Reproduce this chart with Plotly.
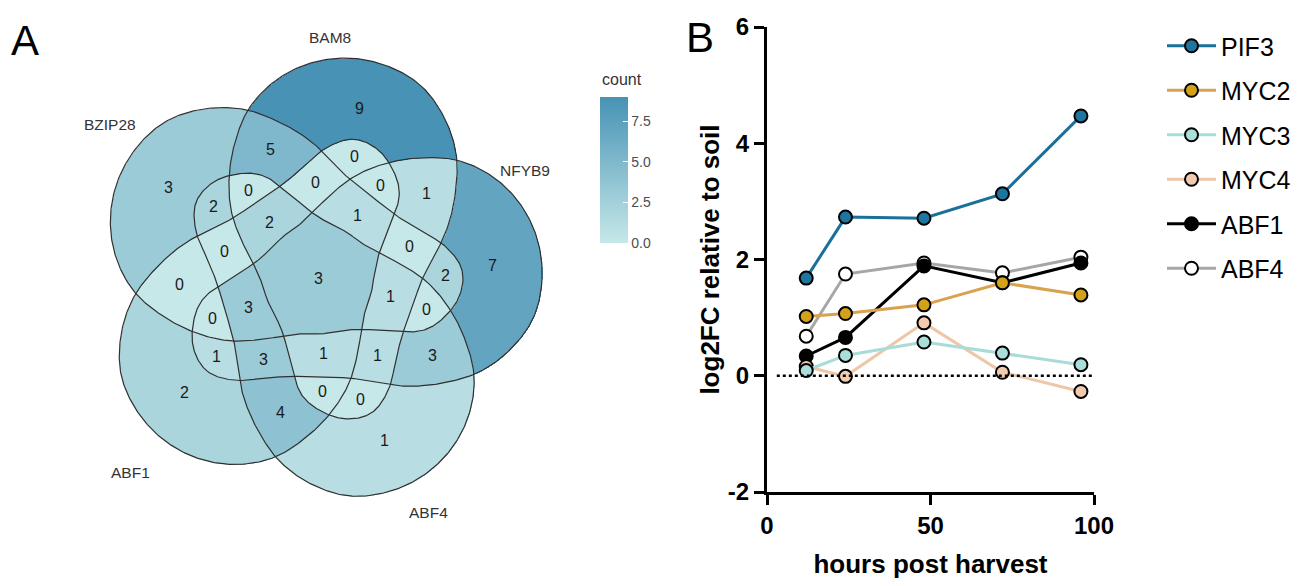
import numpy as np
import plotly.graph_objects as go

# ---------------- Panel B data ----------------
hours = [12, 24, 48, 72, 96]
series_names = ["PIF3", "MYC2", "MYC3", "MYC4", "ABF1", "ABF4"]
pif3 = [1.68, 2.73, 2.71, 3.13, 4.47]
myc2 = [1.02, 1.07, 1.22, 1.60, 1.39]
myc3 = [0.09, 0.35, 0.58, 0.39, 0.19]
myc4 = [0.16, -0.01, 0.91, 0.06, -0.27]
abf1 = [0.34, 0.66, 1.89, 1.60, 1.94]
abf4 = [0.68, 1.75, 1.94, 1.77, 2.04]
y_ticks = [-2, 0, 2, 4, 6]
y_tick_text = ["-2", "0", "2", "4", "6"]
x_ticks = [0, 50, 100]

# ---------------- Panel A data ----------------
set_names = ["BAM8", "NFYB9", "ABF4", "ABF1", "BZIP28"]
region_sets = [
    "BAM8", "NFYB9", "ABF4", "ABF1", "BZIP28",
    "BAM8&NFYB9", "BAM8&ABF4", "BAM8&ABF1", "BAM8&BZIP28", "NFYB9&ABF4",
    "NFYB9&ABF1", "NFYB9&BZIP28", "ABF4&ABF1", "ABF4&BZIP28", "ABF1&BZIP28",
    "BAM8&NFYB9&ABF4", "BAM8&NFYB9&ABF1", "BAM8&NFYB9&BZIP28", "BAM8&ABF4&ABF1",
    "BAM8&ABF4&BZIP28", "BAM8&ABF1&BZIP28", "NFYB9&ABF4&ABF1", "NFYB9&ABF4&BZIP28",
    "NFYB9&ABF1&BZIP28", "ABF4&ABF1&BZIP28",
    "BAM8&NFYB9&ABF4&ABF1", "BAM8&NFYB9&ABF4&BZIP28", "BAM8&NFYB9&ABF1&BZIP28",
    "BAM8&ABF4&ABF1&BZIP28", "NFYB9&ABF4&ABF1&BZIP28",
    "BAM8&NFYB9&ABF4&ABF1&BZIP28",
]
region_counts = [
    9, 7, 1, 2, 3,
    1, 0, 0, 5, 3,
    1, 2, 4, 2, 0,
    1, 0, 0, 0,
    0, 0, 3, 0,
    0, 0,
    1, 1, 1,
    2, 3,
    3,
]

# ---------------- page geometry helpers (page body has an 8 px offset) ----------------
W, H, OFF = 1303, 586, 8


def fx(sx):
    return (sx - OFF) / W


def fy(sy):
    return 1 - (sy - OFF) / H


# ---------------- Venn geometry (radius of one set's outline vs angle, rotated 5x) ----------------
ctrl_r = np.array([117, 133, 143, 144, 132, 115, 104, 99, 98, 100, 106, 120,
                   140, 162, 186, 205, 219, 224, 223, 216, 203, 184, 158, 133,
                   110, 88, 72, 62, 57, 55, 55, 55, 57, 61, 70, 88], dtype=float)
set_angle = [82, 10, -62, -134, 154]
center_screen = (318, 279)
venn_right = 588


def shape_r(psi):
    t = ((np.asarray(psi) + 180.0) % 360.0) / 10.0
    i = np.floor(t).astype(int)
    u = t - i
    n = len(ctrl_r)
    p0 = ctrl_r[(i - 1) % n]; p1 = ctrl_r[i % n]; p2 = ctrl_r[(i + 1) % n]; p3 = ctrl_r[(i + 2) % n]
    return 0.5 * (2 * p1 + (-p0 + p2) * u + (2 * p0 - 5 * p1 + 4 * p2 - p3) * u ** 2
                  + (-p0 + 3 * p1 - 3 * p2 + p3) * u ** 3)


xs = np.arange(-240, 246, 1.0)
ys = np.arange(-240, 241, 1.0)
X, Y = np.meshgrid(xs, ys)
R = np.hypot(X, Y)
PHI = np.degrees(np.arctan2(Y, X))
code = np.zeros(X.shape, dtype=int)
for k, th in enumerate(set_angle):
    code |= (R < shape_r(PHI - th)).astype(int) << k

count_of_code = {}
for s, c in zip(region_sets, region_counts):
    bits = sum(1 << set_names.index(n) for n in s.split("&"))
    count_of_code[bits] = c
lut = np.full(32, np.nan)
for b, c in count_of_code.items():
    lut[b] = c
z = lut[code].astype(np.float32)

font = "Liberation Sans, Arial"
fig = go.Figure()
fig.add_trace(go.Heatmap(x=xs, y=ys, z=z, xaxis="x2", yaxis="y2", zmin=0, zmax=9,
                         colorscale=[[0, "#c6e8e9"], [1, "#4792b5"]], hoverinfo="skip",
                         colorbar=dict(x=fx(600), xanchor="left", y=fy(97), yanchor="top",
                                       lenmode="pixels", len=146, thicknessmode="pixels", thickness=28,
                                       outlinewidth=0, ypad=0, xpad=0,
                                       tickvals=[0, 2.5, 5, 7.5], ticktext=["0.0", "2.5", "5.0", "7.5"],
                                       ticks="inside", ticklen=5, tickcolor="white",
                                       tickfont=dict(family=font, size=14, color="#4d4d4d"))))
ang = np.arange(0, 360.5, 0.5)
for k, th in enumerate(set_angle):
    rr = shape_r(ang - th)
    fig.add_trace(go.Scatter(x=rr * np.cos(np.radians(ang)), y=rr * np.sin(np.radians(ang)),
                             mode="lines", line=dict(color="#303030", width=1.2),
                             xaxis="x2", yaxis="y2", showlegend=False, hoverinfo="skip"))

# region count labels at region centroids
for b, c in count_of_code.items():
    m = code == b
    if m.sum() == 0:
        continue
    fig.add_annotation(x=X[m].mean(), y=Y[m].mean(), xref="x2", yref="y2", text=str(c),
                       showarrow=False, font=dict(family=font, size=16, color="#1a1a1a"))

# set name labels (screen pixel positions)
label_screen = [(330, 38), (525, 170), (428, 512), (130, 472), (110, 125)]
for name, (lx, ly) in zip(set_names, label_screen):
    fig.add_annotation(x=fx(lx), y=fy(ly), xref="paper", yref="paper", text=name, showarrow=False,
                       xanchor="center", yanchor="middle",
                       font=dict(family=font, size=15.5, color="#333333"))
fig.add_annotation(x=fx(600), y=fy(79), xref="paper", yref="paper", text="count",
                   showarrow=False, xanchor="left", yanchor="middle",
                   font=dict(family=font, size=16, color="#333333"))

# ---------------- Panel B traces ----------------
styles = {
    "PIF3": ("#1b7099", "#1d76a0"),
    "MYC2": ("#d9a24e", "#d4a11a"),
    "MYC3": ("#a8dcd9", "#a9dedb"),
    "MYC4": ("#eec6a8", "#f2cbae"),
    "ABF1": ("#000000", "#000000"),
    "ABF4": ("#a6a6a6", "#ffffff"),
}
values = {"PIF3": pif3, "MYC2": myc2, "MYC3": myc3, "MYC4": myc4, "ABF1": abf1, "ABF4": abf4}
for rank, name in reversed(list(enumerate(series_names))):
    lc, mc = styles[name]
    fig.add_trace(go.Scatter(x=hours, y=values[name], name=name, mode="lines+markers",
                             line=dict(color=lc, width=3),
                             marker=dict(size=13, color=mc, line=dict(color="black", width=2)),
                             legendgroup=name, legendrank=rank + 1))

fig.add_shape(type="line", x0=3, x1=100, y0=0, y1=0, xref="x", yref="y",
              line=dict(color="black", width=2.5, dash="dot"))

bold = dict(family=font, size=24, color="black", weight="bold")
cx, cy = center_screen
fig.update_layout(
    width=W, height=H, margin=dict(l=0, r=0, t=0, b=0, autoexpand=False),
    paper_bgcolor="white", plot_bgcolor="white",
    xaxis=dict(domain=[fx(767), fx(1094)], range=[0, 100], tickvals=x_ticks,
               showline=True, linewidth=3, linecolor="black", ticks="outside", ticklen=10,
               tickwidth=3, tickcolor="black", showgrid=False, zeroline=False, tickfont=bold,
               automargin=False,
               title=dict(text="hours post harvest", standoff=18,
                          font=dict(family=font, size=26, color="black", weight="bold"))),
    yaxis=dict(domain=[fy(492), fy(27)], range=[-2, 6], tickvals=y_ticks,
               ticktext=y_tick_text,
               showline=True, linewidth=3, linecolor="black", ticks="outside", ticklen=10,
               tickwidth=3, tickcolor="black", showgrid=False, zeroline=False, tickfont=bold,
               automargin=False,
               title=dict(text="log2FC relative to soil", standoff=1,
                          font=dict(family=font, size=26, color="black", weight="bold"))),
    xaxis2=dict(domain=[0, fx(venn_right)], range=[OFF - cx, venn_right - cx], visible=False),
    yaxis2=dict(domain=[0, 1], range=[cy - OFF - H, cy - OFF], visible=False),
    legend=dict(x=fx(1162), y=fy(23), xanchor="left", yanchor="top",
                font=dict(family=font, size=25, color="black"), itemwidth=49,
                tracegroupgap=9, bgcolor="rgba(0,0,0,0)"),
    showlegend=True,
)
fig.add_annotation(x=fx(25), y=fy(40), xref="paper", yref="paper", text="A", showarrow=False,
                   xanchor="center", yanchor="middle", font=dict(family=font, size=42, color="black"))
fig.add_annotation(x=fx(700), y=fy(38), xref="paper", yref="paper", text="B", showarrow=False,
                   xanchor="center", yanchor="middle", font=dict(family=font, size=42, color="black"))

fig.write_html("out.html", config={"displayModeBar": False})
